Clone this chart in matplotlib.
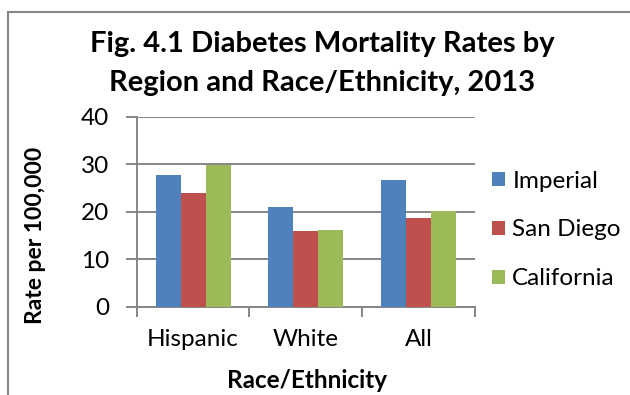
import matplotlib
matplotlib.use("Agg")
import matplotlib.pyplot as plt
from matplotlib.patches import Rectangle
import numpy as np

categories = ["Hispanic", "White", "All"]
series_names = ["Imperial", "San Diego", "California"]
imperial = [27.8, 20.9, 26.6]
san_diego = [24.0, 15.9, 18.7]
california = [29.8, 16.2, 20.1]
colors = ["#4F81BD", "#C0504D", "#9BBB59"]
yticks = [0, 10, 20, 30, 40]

plt.rcParams['font.family'] = ['Lato', 'DejaVu Sans']

W, H = 630, 395
fig = plt.figure(figsize=(W/100, H/100), dpi=100)
ax = fig.add_axes([136.7/W, 1-306.7/H, (475-136.7)/W, (306.7-116.7)/H])

x = np.arange(len(categories))
bw = 0.222
grid_c = "#868686"
for i, (vals, name) in enumerate(zip([imperial, san_diego, california], series_names)):
    ax.bar(x + (i-1)*bw, vals, bw, color=colors[i], label=name, zorder=3)

fs = 17.5
ax.set_xlim(-0.5, 2.5)
ax.set_ylim(0, 40)
ax.set_yticks(yticks)
ax.set_yticklabels([str(t) for t in yticks], fontsize=fs)
ax.yaxis.grid(True, color=grid_c, linewidth=1.4, zorder=0)
ax.set_xticks(x)
ax.set_xticklabels(categories, fontsize=fs)
ax.tick_params(axis='x', length=0, pad=16)
ax.set_xticks([-0.5, 0.5, 1.5, 2.5], minor=True)
ax.tick_params(axis='x', which='minor', length=7, color=grid_c, width=1.4)
ax.tick_params(axis='y', length=8, color=grid_c, width=1.4, pad=12)
for s in ['top', 'right']:
    ax.spines[s].set_visible(False)
for s in ['left', 'bottom']:
    ax.spines[s].set_color(grid_c)
    ax.spines[s].set_linewidth(1.4)

fig.text(36/W, 1-235/H, "Rate per 100,000", rotation=90, ha='center', va='center',
         fontsize=16.5, fontweight='bold')
fig.text(307/W, 1-381/H, "Race/Ethnicity", ha='center', va='center',
         fontsize=fs, fontweight='bold')

fig.text(322/W, 1-63.5/H, "Fig. 4.1 Diabetes Mortality Rates by\nRegion and Race/Ethnicity, 2013",
         ha='center', va='center', fontsize=21, fontweight='bold', linespacing=1.6)

leg = ax.legend(loc='center left', frameon=False,
                fontsize=fs, handlelength=0.54, handleheight=0.54, handletextpad=0.3,
                labelspacing=1.15, borderpad=0, borderaxespad=0)
leg.set_bbox_to_anchor((1.05, 1-(230-116.7)/190), transform=ax.transAxes)

fig.patches.append(Rectangle((8/W, -0.1), 1.2, 1-12/H+0.1, transform=fig.transFigure,
                             fill=False, edgecolor=grid_c, linewidth=1.5))

fig.savefig("out.png", dpi=100)
